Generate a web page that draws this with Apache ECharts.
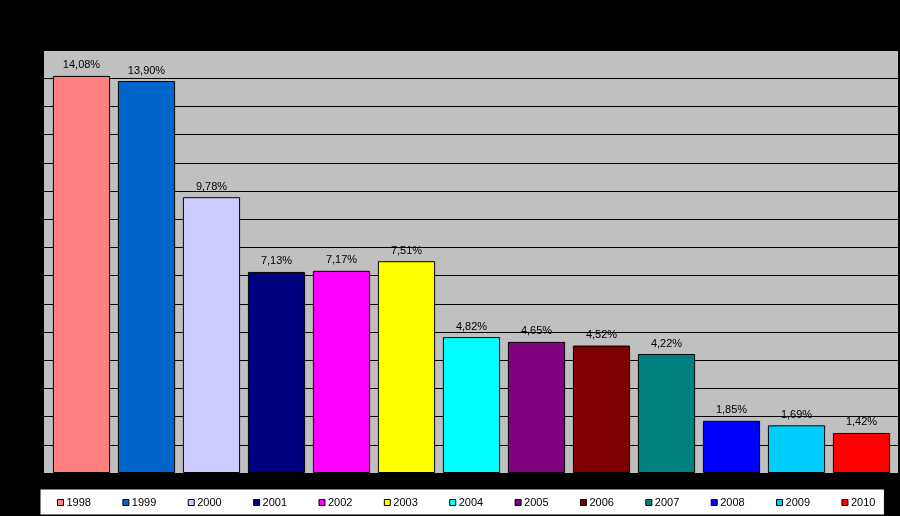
<!DOCTYPE html>
<html>
<head>
<meta charset="utf-8">
<script src="https://cdn.jsdelivr.net/npm/echarts@6/dist/echarts.min.js"></script>
<style>
html,body{margin:0;padding:0;background:#000;}
#c{width:900px;height:516px;}
</style>
</head>
<body>
<div id="c"></div>
<script>
const years = ['1998','1999','2000','2001','2002','2003','2004','2005','2006','2007','2008','2009','2010'];
const values = [14.08, 13.90, 9.78, 7.13, 7.17, 7.51, 4.82, 4.65, 4.52, 4.22, 1.85, 1.69, 1.42];
const palette = ['#FF8080','#0066CC','#CCCCFF','#000080','#FF00FF','#FFFF00','#00FFFF','#800080','#800000','#008080','#0000FF','#00CCFF','#FF0000'];
const yMin = 0, yMax = 15, yStep = 1;

const fmt = v => v.toFixed(2).replace('.', ',') + '%';
const FONT = 'Liberation Sans, Arial, sans-serif';

const series = years.map((y, i) => ({
  name: y,
  type: 'bar',
  stack: 'all',
  xAxisIndex: 1,
  yAxisIndex: 1,
  barCategoryGap: '12%',
  data: years.map((_, j) => j === i ? values[i] : '-'),
  itemStyle: { color: palette[i], borderColor: '#000', borderWidth: 1 },
  label: {
    show: true, position: 'top', distance: 5,
    color: '#000', fontSize: 11, fontFamily: FONT,
    formatter: p => fmt(p.value)
  },
  emphasis: { disabled: true },
  animation: false
}));

const chart = echarts.init(document.getElementById('c'), null, { renderer: 'canvas' });
chart.setOption({
  backgroundColor: '#000',
  animation: false,
  grid: [
    { left: 44, right: 2, top: 50, bottom: 43, show: true, backgroundColor: '#C0C0C0', borderWidth: 0 },
    { left: 49, right: 6, top: 50, bottom: 43, show: false }
  ],
  xAxis: [
    { type: 'category', gridIndex: 0, data: years, show: false },
    {
      type: 'category', gridIndex: 1, data: years,
      axisLine: { show: false }, axisTick: { show: false }, axisLabel: { show: false }
    }
  ],
  yAxis: [
    {
      type: 'value', gridIndex: 0, min: yMin, max: yMax, interval: yStep,
      axisLine: { show: false },
      axisTick: { show: false },
      axisLabel: { show: false },
      splitLine: { show: true, lineStyle: { color: '#000', width: 1 } }
    },
    {
      type: 'value', gridIndex: 1, min: yMin, max: yMax, interval: yStep,
      axisLine: { show: false }, axisTick: { show: false }, axisLabel: { show: false },
      splitLine: { show: false }
    }
  ],
  legend: {
    bottom: 1, left: 40,
    backgroundColor: '#fff', borderColor: '#000', borderWidth: 1,
    padding: [8, 9, 7, 17],
    itemWidth: 6, itemHeight: 6, itemGap: 31.4,
    icon: 'rect',
    textStyle: { color: '#000', fontSize: 11, fontFamily: FONT, padding: [0, 0, 0, -2] },
    data: years.map((y, i) => ({ name: y, itemStyle: { color: palette[i], borderColor: '#000', borderWidth: 1 } }))
  },
  series: series
});
</script>
</body>
</html>
